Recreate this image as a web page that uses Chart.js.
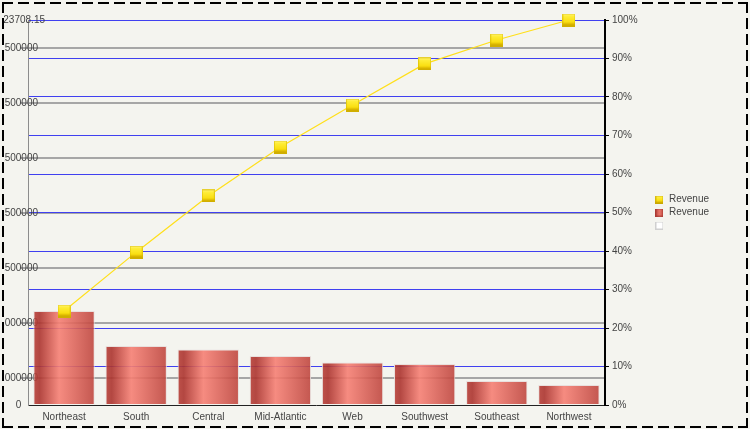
<!DOCTYPE html>
<html><head><meta charset="utf-8">
<script src="https://cdn.jsdelivr.net/npm/chart.js@4/dist/chart.umd.min.js"></script>
<style>
html,body{margin:0;padding:0;background:#f4f4ef;}
#wrap{position:relative;width:750px;height:429px;overflow:hidden;background:#f4f4ef;}
#c{position:absolute;left:4px;top:4px;}
.dh,.dv{position:absolute;}
.dh{height:2px;background:repeating-linear-gradient(90deg,#000 0 11px,transparent 11px 16px);}
.dv{width:2px;background:repeating-linear-gradient(180deg,#000 0 11px,transparent 11px 16px);}
</style></head><body>
<div id="wrap">
<canvas id="c" width="742" height="422"></canvas>
<div class="dh" style="left:2px;top:2px;width:746px"></div>
<div class="dh" style="left:2px;top:426px;width:746px"></div>
<div class="dv" style="left:2px;top:2px;height:426px"></div>
<div class="dv" style="left:746px;top:2px;height:426px"></div>
</div>
<script>
const categories = ['Northeast','South','Central','Mid-Atlantic','Web','Southwest','Southeast','Northwest'];
const revenue = [518516.40, 325451.25, 306145.10, 270290.35, 234435.20, 226161.05, 132387.30, 110321.50];
const cumulativePct = [24.4, 39.7, 54.3, 67.0, 77.9, 88.6, 94.8, 100];
const leftTickValues = [0, 149000, 452000, 755500, 1059000, 1362500, 1666000, 1969000, 2123708.15];
const leftTickLabels = ['0', '1000000', '1000000', '1500000', '1500000', '1500000', '1500000', '1500000', '2123708.15'];
const rightTickValues = [0, 10, 20, 30, 40, 50, 60, 70, 80, 90, 100];
const rightTickLabels = ['0%', '10%', '20%', '30%', '40%', '50%', '60%', '70%', '80%', '90%', '100%'];
const legendLabels = ['Revenue', 'Revenue', ''];

const FONT = {family: "'Liberation Sans', Arial, sans-serif", size: 10};
const TEXT = '#444444';
const BAR_PCT = 0.85;

function makeMarker(size, stops, dir, border) {
  const cv = document.createElement('canvas');
  cv.width = size; cv.height = size;
  const x = cv.getContext('2d');
  const g = dir === 'v' ? x.createLinearGradient(0, 0, 0, size) : x.createLinearGradient(0, 0, size, 0);
  stops.forEach(s => g.addColorStop(s[0], s[1]));
  x.fillStyle = g; x.fillRect(0, 0, size, size);
  if (border) { x.strokeStyle = border; x.lineWidth = 1; x.strokeRect(0.5, 0.5, size - 1, size - 1); }
  return cv;
}
const yellowStops = [[0,'#fff58a'],[0.2,'#ffee3a'],[0.65,'#fadf12'],[0.82,'#dcb800'],[1,'#bf9a00']];
const pointMarker = makeMarker(13, yellowStops, 'v', 'rgba(215,185,0,0.6)');
const legendMarkers = [
  makeMarker(8, yellowStops, 'v', 'rgba(200,165,0,0.7)'),
  makeMarker(8, [[0,'#b5403a'],[0.5,'#ec7a6e'],[1,'#bb443c']], 'h', 'rgba(160,50,45,0.6)'),
  makeMarker(8, [[0,'#ffffff'],[1,'#ffffff']], 'h', '#d0d0d0')
];

function barFill(c) {
  if (c.type !== 'data') return '#d0584e';
  const ch = c.chart, xs = ch.scales.x;
  if (!xs || !isFinite(xs.width) || xs.width <= 0) return '#d0584e';
  const cx = xs.getPixelForValue(c.dataIndex);
  const w = xs.width / categories.length * BAR_PCT;
  const g = ch.ctx.createLinearGradient(cx - w / 2, 0, cx + w / 2, 0);
  g.addColorStop(0, 'rgba(184,64,56,0.9)');
  g.addColorStop(0.1, 'rgba(172,52,46,0.9)');
  g.addColorStop(0.42, 'rgba(246,128,116,0.9)');
  g.addColorStop(1, 'rgba(190,70,62,0.9)');
  return g;
}

// let the left axis labels overflow their box (the frame clips them on the left)
const unclipLabels = {
  id: 'unclipLabels',
  afterLayout(chart) {
    const s = chart.scales.y;
    if (s) s._computeLabelArea = () => undefined;
  }
};

new Chart(document.getElementById('c'), {
  type: 'bar',
  plugins: [unclipLabels],
  data: {
    labels: categories,
    datasets: [
      { type: 'line', label: 'Revenue', data: cumulativePct, yAxisID: 'y2', order: 1, clip: false,
        borderColor: '#ffdf1a', borderWidth: 1.2, tension: 0, fill: false,
        pointStyle: pointMarker, pointRadius: 7, pointHoverRadius: 7 },
      { type: 'bar', label: 'Revenue', data: revenue, yAxisID: 'y', order: 2,
        backgroundColor: barFill, borderColor: 'rgba(232,222,220,0.95)', borderWidth: 1,
        barPercentage: BAR_PCT, categoryPercentage: 1 }
    ]
  },
  options: {
    responsive: false, animation: false, devicePixelRatio: 1, events: [],
    layout: { padding: { top: 16, right: 27, left: 0, bottom: 0 } },
    plugins: {
      tooltip: { enabled: false },
      legend: {
        position: 'right', fullSize: false,
        labels: {
          usePointStyle: true, boxWidth: 9, boxHeight: 9, padding: 3, color: TEXT,
          font: {family: FONT.family, size: 10, lineHeight: 1},
          generateLabels: () => legendLabels.map((t, i) => ({
            text: t, pointStyle: legendMarkers[i], fillStyle: 'transparent',
            strokeStyle: 'transparent', lineWidth: 0, hidden: false, fontColor: TEXT, datasetIndex: i
          }))
        }
      }
    },
    scales: {
      x: {
        type: 'category', offset: true,
        grid: { display: false, drawTicks: false },
        border: { display: true, color: '#222', width: 1 },
        ticks: { color: TEXT, font: FONT, padding: 6, maxRotation: 0, autoSkip: false },
        afterFit: s => { s.height = 21; }
      },
      y: {
        position: 'left', min: 0, max: leftTickValues[leftTickValues.length - 1],
        afterBuildTicks: s => { s.ticks = leftTickValues.map(v => ({value: v})); },
        ticks: { callback: (v, i) => leftTickLabels[i], color: TEXT, font: FONT,
                 crossAlign: 'center', padding: -25, autoSkip: false },
        grid: {
          color: c => (c.index === 0 || c.index === leftTickValues.length - 1) ? 'rgba(0,0,0,0)' : '#a6a6a6',
          lineWidth: 2, drawTicks: true, tickLength: 8
        },
        border: { color: '#8c8c8c', width: 1 },
        afterFit: s => { s.width = 24; }
      },
      y2: {
        position: 'right', min: 0, max: 100,
        afterBuildTicks: s => { s.ticks = rightTickValues.map(v => ({value: v})); },
        ticks: { callback: (v, i) => rightTickLabels[i], color: TEXT, font: FONT, padding: 3, autoSkip: false },
        grid: {
          color: c => c.index === 0 ? 'rgba(0,0,0,0)' : '#4040f0',
          lineWidth: 1, tickColor: '#000', tickLength: 4
        },
        border: { color: '#000', width: 2 },
        afterFit: s => { s.width = 47; }
      }
    }
  }
});
</script>
</body></html>
